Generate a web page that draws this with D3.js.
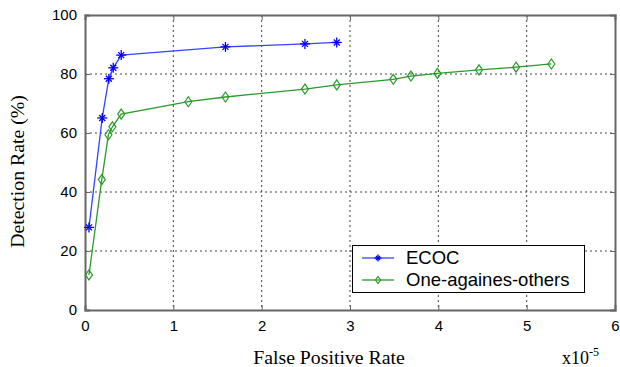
<!DOCTYPE html>
<html><head><meta charset="utf-8">
<script src="https://cdn.jsdelivr.net/npm/d3@7"></script>
<style>body{margin:0;background:#fff}</style>
</head><body>
<svg id="c" width="620" height="367"></svg>
<script>
const ecocX = [0.045, 0.195, 0.27, 0.32, 0.41, 1.59, 2.49, 2.85];
const ecocY = [28, 65.1, 78.4, 82.1, 86.4, 89.2, 90.2, 90.7];
const oaoX = [0.045, 0.19, 0.265, 0.31, 0.41, 1.17, 1.59, 2.49, 2.85, 3.49, 3.69, 3.99, 4.46, 4.88, 5.28];
const oaoY = [11.9, 44.2, 59.4, 62.1, 66.4, 70.6, 72.2, 74.9, 76.3, 78.2, 79.3, 80.2, 81.4, 82.3, 83.4];
const xTicks = [0, 1, 2, 3, 4, 5, 6];
const yTicks = [0, 20, 40, 60, 80, 100];
const seriesNames = ["ECOC", "One-againes-others"];

const svg = d3.select("#c");
const L = 85, R = 615, T = 15, B = 310;
const x = d3.scaleLinear().domain([0, 6]).range([L, R]);
const y = d3.scaleLinear().domain([0, 100]).range([B, T]);

// grid
const g = svg.append("g");
g.selectAll(".gx").data(xTicks.slice(1, -1)).enter().append("line")
  .attr("x1", d => x(d)).attr("x2", d => x(d)).attr("y1", T).attr("y2", B)
  .attr("stroke", "#444").attr("stroke-width", 1).attr("stroke-dasharray", "2,3");
g.selectAll(".gy").data(yTicks.slice(1, -1)).enter().append("line")
  .attr("x1", L).attr("x2", R).attr("y1", d => y(d)).attr("y2", d => y(d))
  .attr("stroke", "#444").attr("stroke-width", 1).attr("stroke-dasharray", "2,3");

// axes
const font = "Liberation Sans, Arial, sans-serif";
svg.append("g").attr("transform", `translate(0,${B})`)
  .call(d3.axisBottom(x).tickValues(xTicks).tickSize(-5).tickPadding(10).tickFormat(d3.format("d")));
svg.append("g").attr("transform", `translate(${L},0)`)
  .call(d3.axisLeft(y).tickValues(yTicks).tickSize(-5).tickPadding(8).tickFormat(d3.format("d")));
svg.append("g").attr("transform", `translate(0,${T})`)
  .call(d3.axisTop(x).tickValues(xTicks).tickSize(-5).tickFormat(""));
svg.append("g").attr("transform", `translate(${R},0)`)
  .call(d3.axisRight(y).tickValues(yTicks).tickSize(-5).tickFormat(""));
svg.selectAll(".domain").attr("stroke", "#666").attr("stroke-width", 2);
svg.selectAll(".tick line").attr("stroke", "#666");
svg.selectAll(".tick text").attr("font-family", font).attr("font-size", 15).attr("fill", "#000");

// lines
const line = d3.line().x(d => x(d[0])).y(d => y(d[1]));
const ecoc = ecocX.map((v, i) => [v, ecocY[i]]);
const oao = oaoX.map((v, i) => [v, oaoY[i]]);
svg.append("path").datum(ecoc).attr("d", line).attr("fill", "none").attr("stroke", "#3344ff").attr("stroke-width", 1.3);
svg.append("path").datum(oao).attr("d", line).attr("fill", "none").attr("stroke", "#2a9a2a").attr("stroke-width", 1.3);

function star(sel, cx, cy, s, col) {
  const gg = sel.append("g").attr("stroke", col).attr("stroke-width", 1.3);
  gg.append("line").attr("x1", cx - s).attr("x2", cx + s).attr("y1", cy).attr("y2", cy);
  gg.append("line").attr("x1", cx).attr("x2", cx).attr("y1", cy - s).attr("y2", cy + s);
  gg.append("line").attr("x1", cx - s*0.6).attr("x2", cx + s*0.6).attr("y1", cy - s*0.6).attr("y2", cy + s*0.6);
  gg.append("line").attr("x1", cx - s*0.6).attr("x2", cx + s*0.6).attr("y1", cy + s*0.6).attr("y2", cy - s*0.6);
}
function diamond(sel, cx, cy, w, h, col) {
  sel.append("path").attr("d", `M${cx},${cy-h}L${cx+w},${cy}L${cx},${cy+h}L${cx-w},${cy}Z`)
    .attr("fill", "none").attr("stroke", col).attr("stroke-width", 1.2);
}
ecoc.forEach(d => star(svg, x(d[0]), y(d[1]), 5, "#0000ee"));
oao.forEach(d => diamond(svg, x(d[0]), y(d[1]), 3.5, 5, "#2a9a2a"));

// legend
const lg = svg.append("g");
lg.append("rect").attr("x", 352.5).attr("y", 245.5).attr("width", 232).attr("height", 47)
  .attr("fill", "#fff").attr("stroke", "#000").attr("stroke-width", 1);
lg.append("line").attr("x1", 362).attr("x2", 394).attr("y1", 258).attr("y2", 258).attr("stroke", "#3344ff").attr("stroke-width", 1.3);
star(lg, 378, 258, 3.5, "#0000ee");
lg.append("line").attr("x1", 362).attr("x2", 394).attr("y1", 280).attr("y2", 280).attr("stroke", "#2a9a2a").attr("stroke-width", 1.3);
diamond(lg, 378, 280, 2.5, 3.5, "#2a9a2a");
lg.selectAll("text").data(seriesNames).enter().append("text")
  .attr("x", 406).attr("y", (d, i) => 264 + i * 22)
  .attr("font-family", font).attr("font-size", 18.5).text(d => d);

// labels
const serif = "Liberation Serif, Times New Roman, serif";
svg.append("text").attr("x", 329).attr("y", 364).attr("text-anchor", "middle")
  .attr("font-family", serif).attr("font-size", 19.8).text("False Positive Rate");
svg.append("text").attr("transform", "translate(24,171.5) rotate(-90)").attr("text-anchor", "middle")
  .attr("font-family", serif).attr("font-size", 19.8).text("Detection Rate (%)");
const ex = svg.append("text").attr("x", 562).attr("y", 364).attr("font-family", serif).attr("font-size", 18);
ex.append("tspan").text("x10");
ex.append("tspan").attr("dy", -8).attr("font-size", 12).text("-5");
</script>
</body></html>
